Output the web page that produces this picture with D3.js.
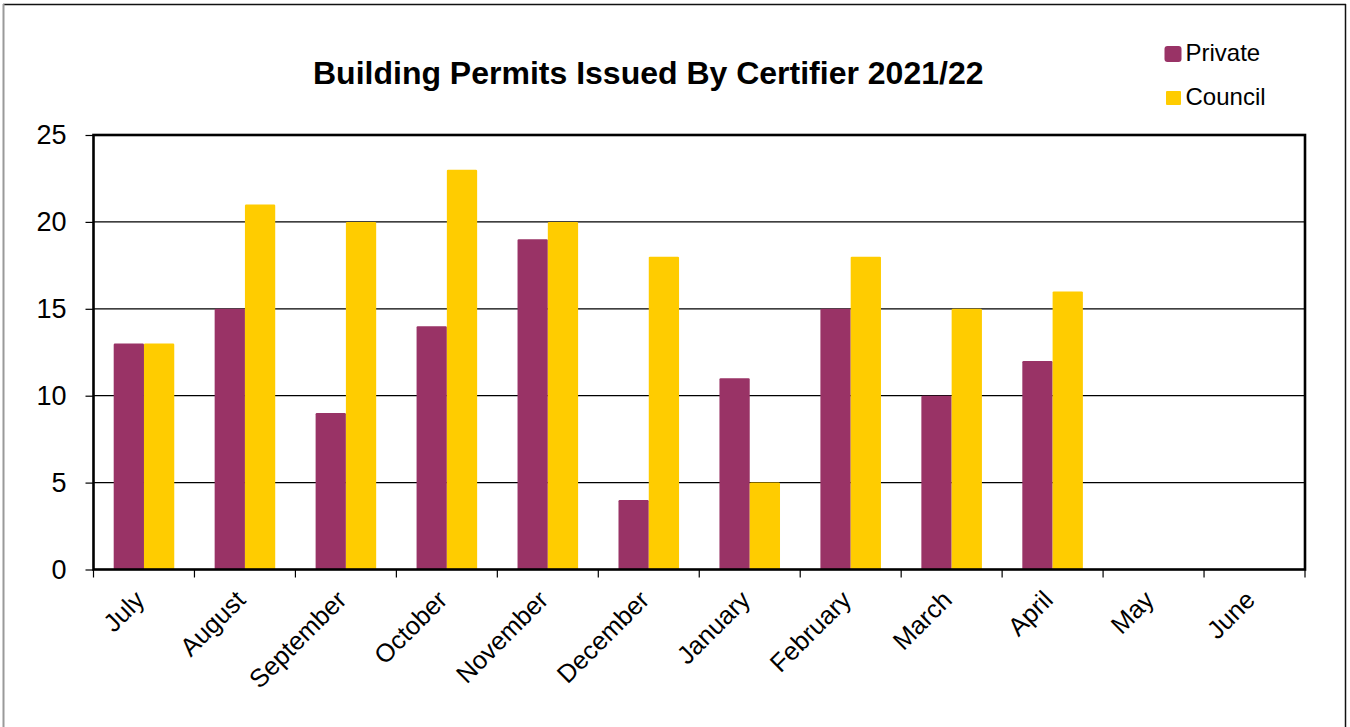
<!DOCTYPE html>
<html>
<head>
<meta charset="utf-8">
<script src="https://cdn.jsdelivr.net/npm/d3@7"></script>
<style>
  html, body { margin: 0; padding: 0; background: #fff; }
  svg { display: block; font-family: "Liberation Sans", Arial, sans-serif; }
</style>
</head>
<body>
<svg id="chart" width="1350" height="727"></svg>
<script>
// Monthly permit counts, financial year July 2021 – June 2022
const months = ["July", "August", "September", "October", "November", "December",
                "January", "February", "March", "April", "May", "June"];
const privateCounts = [13, 15, 9, 14, 19, 4, 11, 15, 10, 12, null, null];
const councilCounts = [13, 21, 20, 23, 20, 18, 5, 18, 15, 16, null, null];
const seriesNames = ["Private", "Council"];
const seriesColors = ["#993366", "#FFCC00"];
const yTicks = [0, 5, 10, 15, 20, 25];
const titleText = "Building Permits Issued By Certifier 2021/22";

const svg = d3.select("#chart");

const plot = { left: 93.5, top: 135, right: 1305, bottom: 569.5 };

// outer frame of the chart object
svg.append("line").attr("x1", 3).attr("x2", 1346).attr("y1", 4.5).attr("y2", 4.5)
  .attr("stroke", "#111").attr("stroke-width", 1.5);
svg.append("line").attr("x1", 3.5).attr("x2", 3.5).attr("y1", 4).attr("y2", 727)
  .attr("stroke", "#9a9a9a").attr("stroke-width", 2);
svg.append("line").attr("x1", 1345.5).attr("x2", 1345.5).attr("y1", 4).attr("y2", 727)
  .attr("stroke", "#111").attr("stroke-width", 1.5);

const x = d3.scaleBand().domain(months).range([plot.left, plot.right]).padding(0);
const xInner = d3.scaleBand().domain(seriesNames).range([0, x.bandwidth()])
  .paddingInner(0).paddingOuter(0.667);
const y = d3.scaleLinear().domain([0, 25]).range([plot.bottom, plot.top]);

// horizontal gridlines
svg.append("g").selectAll("line")
  .data(yTicks.filter(t => t > 0 && t < 25))
  .join("line")
  .attr("x1", plot.left).attr("x2", plot.right)
  .attr("y1", d => y(d)).attr("y2", d => y(d))
  .attr("stroke", "#000").attr("stroke-width", 1.2);

// y axis ticks and labels
const yAxis = d3.axisLeft(y).tickValues(yTicks).tickSize(8).tickPadding(19)
  .tickFormat(d3.format("d"));
const gy = svg.append("g").attr("transform", `translate(${plot.left},0)`).call(yAxis);
gy.select(".domain").remove();
gy.selectAll(".tick line").attr("stroke", "#000").attr("stroke-width", 1.2);
gy.selectAll(".tick text")
  .attr("font-size", 27).attr("fill", "#000")
  .attr("font-family", "'Liberation Sans', Arial, sans-serif");

// bars
const rows = months.map((m, i) => ({ month: m, values: [privateCounts[i], councilCounts[i]] }));
const groups = svg.append("g").selectAll("g")
  .data(rows).join("g")
  .attr("transform", d => `translate(${x(d.month)},0)`);
groups.selectAll("rect")
  .data(d => d.values.map((v, k) => ({ key: seriesNames[k], value: v, color: seriesColors[k] }))
    .filter(e => e.value != null))
  .join("rect")
  .attr("x", d => xInner(d.key))
  .attr("width", xInner.bandwidth())
  .attr("y", d => y(d.value))
  .attr("height", d => y(0) - y(d.value))
  .attr("rx", 1.2)
  .attr("fill", d => d.color);

// x axis ticks at category boundaries
const xBounds = months.map(m => x(m)).concat([plot.right]);
svg.append("g").selectAll("line")
  .data(xBounds).join("line")
  .attr("x1", d => d).attr("x2", d => d)
  .attr("y1", plot.bottom).attr("y2", plot.bottom + 8)
  .attr("stroke", "#000").attr("stroke-width", 1.2);

// plot area border
svg.append("rect")
  .attr("x", plot.left).attr("y", plot.top)
  .attr("width", plot.right - plot.left).attr("height", plot.bottom - plot.top)
  .attr("fill", "none").attr("stroke", "#000").attr("stroke-width", 2.6);

// rotated month labels
svg.append("g").selectAll("text")
  .data(months).join("text")
  .attr("transform", d => `translate(${x(d) + x.bandwidth() / 2 + 2},${plot.bottom + 32}) rotate(-45)`)
  .attr("text-anchor", "end")
  .attr("font-size", 25.5)
  .attr("fill", "#000")
  .text(d => d);

// title
svg.append("text")
  .attr("x", 313).attr("y", 83.5)
  .attr("font-size", 32).attr("font-weight", "bold").attr("fill", "#000")
  .text(titleText);

// legend
const legend = svg.append("g");
const legendRows = [
  { name: seriesNames[0], color: seriesColors[0], sx: 1164.5, sy: 46, sw: 17, sh: 16, rx: 3, ty: 61 },
  { name: seriesNames[1], color: seriesColors[1], sx: 1166, sy: 91, sw: 15, sh: 14, rx: 1, ty: 104.5 }
];
legend.selectAll("rect").data(legendRows).join("rect")
  .attr("x", d => d.sx).attr("y", d => d.sy)
  .attr("width", d => d.sw).attr("height", d => d.sh)
  .attr("rx", d => d.rx).attr("fill", d => d.color);
legend.selectAll("text").data(legendRows).join("text")
  .attr("x", 1185.5).attr("y", d => d.ty)
  .attr("font-size", 24).attr("fill", "#000")
  .text(d => d.name);
</script>
</body>
</html>
